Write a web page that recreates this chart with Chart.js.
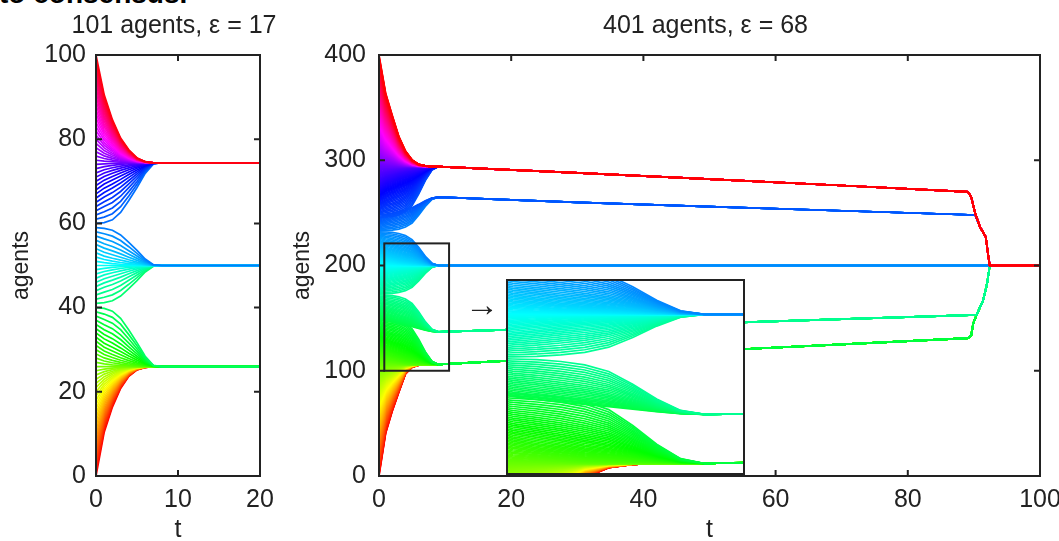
<!DOCTYPE html>
<html>
<head>
<meta charset="utf-8">
<script src="https://cdn.jsdelivr.net/npm/chart.js@4.4.0/dist/chart.umd.min.js"></script>
<style>
  html, body { margin: 0; padding: 0; background: #fff; }
  body { width: 1059px; height: 541px; position: relative; overflow: hidden; }
  #left { position: absolute; left: 0; top: 0; }
  #right { position: absolute; left: 290px; top: 0; }
  #insetBox { position: absolute; background: #fff; border: 2px solid #222; box-sizing: border-box; }
  #insetBox canvas { display: block; }
  #clip { position: absolute; left: -1px; top: -20px; font: bold 28px "Liberation Sans", Arial, sans-serif; line-height: 28px; white-space: nowrap; color: #000; }
</style>
</head>
<body>
<div id="clip">to consensus.</div>
<canvas id="left" width="280" height="541"></canvas>
<canvas id="right" width="769" height="541"></canvas>
<div id="insetBox"><canvas id="inset"></canvas></div>
<script>
// ---- left panel: 101 agents, eps = 17 ----
const leftCount = 101;
const leftTimes = [0, 1, 2, 3, 4, 5, 6, 7, 8];
const leftFastLow = [1, 0.6, 0.37, 0.2, 0.09, 0.03, 0.008, 0, 0];    // bottom envelope shrink
const leftFastHigh = [1, 0.63, 0.4, 0.23, 0.12, 0.045, 0.01, 0, 0];  // top envelope shrink
const leftSlow = [1, 1, 0.96, 0.84, 0.64, 0.42, 0.18, 0.02, 0];      // agents near a cluster border
const leftFirst = [0, 41, 60];
const leftLast = [40, 59, 100];
const leftDriftT = [[8, 20], [8, 20], [8, 20]];
const leftDriftV = [[26, 26], [50, 50], [74.4, 74.4]];
const leftXTicks = [0, 10, 20];
const leftYTicks = [0, 20, 40, 60, 80, 100];

// ---- right panel: 401 agents, eps = 68 ----
const rightCount = 401;
const rightTimes = [0, 1, 2, 3, 4, 5, 6, 7, 8, 9];
const rightFastLow = [1, 0.62, 0.42, 0.25, 0.085, 0.025, 0.006, 0, 0, 0];
const rightFastHigh = [1, 0.66, 0.46, 0.27, 0.14, 0.06, 0.02, 0.007, 0, 0];
const rightSlow = [1, 1, 0.99, 0.96, 0.9, 0.78, 0.55, 0.28, 0.07, 0];
const rightFirst = [0, 151, 173, 233, 246];
const rightLast = [150, 172, 232, 245, 400];
const rightDriftT = [
    [9, 30, 50, 70, 89.1, 89.6, 89.9, 90.4, 91.4, 92, 92.4, 100],
    [9, 30, 50, 70, 90.4, 91.4, 92, 92.4, 100],
    [9, 100],
    [9, 30, 50, 70, 90.2, 90.9, 91.8, 92.2, 92.4, 100],
    [9, 30, 50, 70, 89.1, 89.6, 90.2, 90.9, 91.8, 92.2, 92.4, 100],
];
const rightDriftV = [
    [106, 113, 119, 125, 131, 134, 145, 153, 167, 183, 200, 200],
    [137, 141, 145, 149, 153, 167, 183, 200, 200],
    [200, 200],
    [265, 260, 256, 252, 248, 237, 227, 208, 200, 200],
    [294, 288, 282, 276, 270, 265, 249.5, 237, 227, 208, 200, 200],
];
const rightXTicks = [0, 20, 40, 60, 80, 100];
const rightYTicks = [0, 100, 200, 300, 400];

// zoom window and where the inset sits (data units of the right panel)
const zoomX = [0.8, 10.6];
const zoomY = [100, 221];
const insetPlaceX = [19.5, 55.1];
const insetPlaceY = [3, 185.3];
const arrowAt = [15.6, 160.5];

const FONT = '"Liberation Sans", Arial, sans-serif';
const LINE_W = 1.7;

function agentPath(v, k, times, fastLow, fastHigh, slow, first, last, driftT, driftV) {
    const c = driftV[k][0];
    const fast = k === 0 ? fastLow : fastHigh;
    let w;
    if ((k === 0 && v <= c) || (k === first.length - 1 && v >= c)) w = 0;
    else if (v < c) w = (c - v) / (c - first[k] + 0.5);
    else w = (v - c) / (last[k] + 0.5 - c);
    const pts = times.map((t, i) => ({ x: t, y: c + (v - c) * ((1 - w) * fast[i] + w * slow[i]) }));
    for (let j = 1; j < driftT[k].length; j++) pts.push({ x: driftT[k][j], y: driftV[k][j] });
    return pts;
}

function buildDatasets(count, times, fastLow, fastHigh, slow, first, last, driftT, driftV) {
    const sets = [];
    // highest agent first so it ends up drawn on top
    for (let v = count - 1; v >= 0; v--) {
        const k = first.findIndex((f, i) => v >= f && v <= last[i]);
        const hue = Math.round((3600 * v) / count) / 10;
        sets.push({
            data: agentPath(v, k, times, fastLow, fastHigh, slow, first, last, driftT, driftV),
            borderColor: "hsl(" + hue + ", 100%, 50%)",
            borderWidth: LINE_W,
            pointRadius: 0,
            tension: 0,
            fill: false,
            clip: 0,
        });
    }
    return sets;
}

// box, inward ticks on all four sides, zoom rectangle, titles
const framePlugin = {
    id: "frame",
    afterDraw(chart, args, opts) {
        const { ctx, chartArea: a, scales: { x, y } } = chart;
        ctx.save();
        ctx.strokeStyle = "#222";
        ctx.lineWidth = 2;
        ctx.strokeRect(a.left, a.top, a.right - a.left, a.bottom - a.top);
        opts.xTicks.forEach((t) => {
            const p = x.getPixelForValue(t);
            ctx.beginPath();
            ctx.moveTo(p, a.bottom); ctx.lineTo(p, a.bottom - 6);
            ctx.moveTo(p, a.top); ctx.lineTo(p, a.top + 6);
            ctx.stroke();
        });
        opts.yTicks.forEach((t) => {
            const p = y.getPixelForValue(t);
            ctx.beginPath();
            ctx.moveTo(a.left, p); ctx.lineTo(a.left + 6, p);
            ctx.moveTo(a.right, p); ctx.lineTo(a.right - 6, p);
            ctx.stroke();
        });
        if (opts.zoomBox) {
            const zx0 = x.getPixelForValue(opts.zoomBox[0][0]), zx1 = x.getPixelForValue(opts.zoomBox[0][1]);
            const zy0 = y.getPixelForValue(opts.zoomBox[1][0]), zy1 = y.getPixelForValue(opts.zoomBox[1][1]);
            ctx.strokeRect(zx0, zy1, zx1 - zx0, zy0 - zy1);
        }
        ctx.beginPath();

        const cx = (a.left + a.right) / 2;
        ctx.fillStyle = "#222";
        ctx.font = "25px " + FONT;
        ctx.textAlign = "center";
        ctx.textBaseline = "alphabetic";
        ctx.fillText(opts.title, cx - 4, 33);
        ctx.fillText("t", cx, 537);
        if (opts.arrow) {
            ctx.font = "34px " + FONT;
            ctx.textBaseline = "middle";
            ctx.fillText("\u2192", x.getPixelForValue(opts.arrow[0]), y.getPixelForValue(opts.arrow[1]));
        }
        ctx.restore();

        ctx.save();
        ctx.fillStyle = "#222";
        ctx.font = "23px " + FONT;
        ctx.textAlign = "center";
        ctx.textBaseline = "middle";
        ctx.setTransform(0, -1, 1, 0, opts.yTitleX, (a.top + a.bottom) / 2);
        ctx.fillText("agents", 0, 0);
        ctx.restore();
    },
};

function panelOptions(xMax, xStep, yMax, yStep, yWidth, padRight, yPad, frame) {
    return {
        animation: false,
        responsive: false,
        devicePixelRatio: 1,
        events: [],
        layout: { padding: { top: 55, right: padRight, left: 0, bottom: 0 } },
        plugins: { legend: { display: false }, tooltip: { enabled: false }, frame: frame },
        scales: {
            x: {
                type: "linear", min: 0, max: xMax,
                grid: { display: false, drawTicks: false }, border: { display: false },
                ticks: { stepSize: xStep, padding: 9, color: "#222", font: { size: 25, family: FONT } },
                afterFit: (s) => { s.height = 65; s.paddingLeft = 0; s.paddingRight = 0; },
            },
            y: {
                type: "linear", min: 0, max: yMax,
                grid: { display: false, drawTicks: false }, border: { display: false },
                ticks: { stepSize: yStep, padding: yPad, color: "#222", font: { size: 25, family: FONT } },
                afterFit: (s) => { s.width = yWidth; s.paddingTop = 0; s.paddingBottom = 0; },
            },
        },
    };
}

new Chart(document.getElementById("left"), {
    type: "line",
    data: { datasets: buildDatasets(leftCount, leftTimes, leftFastLow, leftFastHigh, leftSlow, leftFirst, leftLast, leftDriftT, leftDriftV) },
    options: panelOptions(20, 10, 100, 20, 96, 20, 10,
        { xTicks: leftXTicks, yTicks: leftYTicks, title: "101 agents, \u03b5 = 17", yTitleX: 22 }),
    plugins: [framePlugin],
});

const rightChart = new Chart(document.getElementById("right"), {
    type: "line",
    data: { datasets: buildDatasets(rightCount, rightTimes, rightFastLow, rightFastHigh, rightSlow, rightFirst, rightLast, rightDriftT, rightDriftV) },
    options: panelOptions(100, 20, 400, 100, 89, 19, 13,
        { xTicks: rightXTicks, yTicks: rightYTicks, zoomBox: [zoomX, zoomY],
          title: "401 agents, \u03b5 = 68", yTitleX: 13, arrow: arrowAt }),
    plugins: [framePlugin],
});

// inset: same agents, zoomed into the small box
const xs = rightChart.scales.x, ys = rightChart.scales.y;
const L = 290 + xs.getPixelForValue(insetPlaceX[0]);
const R = 290 + xs.getPixelForValue(insetPlaceX[1]);
const T = ys.getPixelForValue(insetPlaceY[1]);
const B = ys.getPixelForValue(insetPlaceY[0]);
const box = document.getElementById("insetBox");
box.style.left = Math.round(L - 2) + "px";
box.style.top = Math.round(T - 2) + "px";
box.style.width = Math.round(R - L + 4) + "px";
box.style.height = Math.round(B - T + 4) + "px";
const insetCanvas = document.getElementById("inset");
insetCanvas.width = Math.round(R - L);
insetCanvas.height = Math.round(B - T);

new Chart(insetCanvas, {
    type: "line",
    data: { datasets: buildDatasets(rightCount, rightTimes, rightFastLow, rightFastHigh, rightSlow, rightFirst, rightLast, rightDriftT, rightDriftV) },
    options: {
        animation: false,
        responsive: false,
        devicePixelRatio: 1,
        events: [],
        layout: { padding: 0 },
        plugins: { legend: { display: false }, tooltip: { enabled: false } },
        scales: {
            x: { type: "linear", min: zoomX[0], max: zoomX[1], display: false },
            y: { type: "linear", min: zoomY[0], max: zoomY[1], display: false },
        },
    },
});
</script>
</body>
</html>
